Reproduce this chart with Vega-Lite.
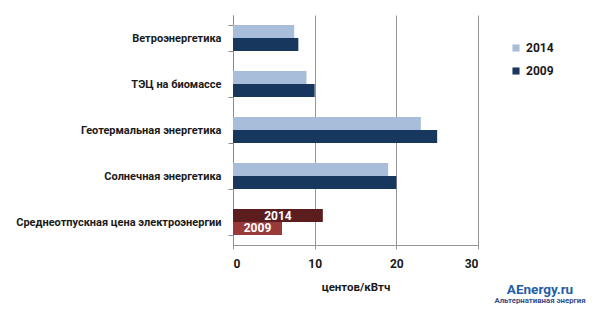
{
  "$schema": "https://vega.github.io/schema/vega-lite/v6.json",
  "width": 245,
  "height": 230,
  "autosize": {"type": "none"},
  "padding": {"left": 233, "top": 15, "right": 114, "bottom": 66},
  "background": "white",
  "config": {"view": {"stroke": null}, "font": "Roboto"},
  "title": {
    "text": "AEnergy.ru",
    "subtitle": "Альтернативная энергия",
    "orient": "bottom",
    "anchor": "end",
    "frame": "group",
    "align": "center",
    "dx": 62,
    "dy": -14,
    "font": "Roboto",
    "fontSize": 13.5,
    "fontWeight": "bold",
    "color": "#1f5fa8",
    "subtitleFont": "Roboto",
    "subtitleFontSize": 7.8,
    "subtitleFontWeight": "bold",
    "subtitleColor": "#3a4f85",
    "subtitlePadding": 1
  },
  "data": {
    "values": [
      {"category": "Ветроэнергетика", "year": "2014", "series": "2014", "value": 7.5},
      {"category": "Ветроэнергетика", "year": "2009", "series": "2009", "value": 8},
      {"category": "ТЭЦ на биомассе", "year": "2014", "series": "2014", "value": 9},
      {"category": "ТЭЦ на биомассе", "year": "2009", "series": "2009", "value": 10},
      {"category": "Геотермальная энергетика", "year": "2014", "series": "2014", "value": 23},
      {"category": "Геотермальная энергетика", "year": "2009", "series": "2009", "value": 25},
      {"category": "Солнечная энергетика", "year": "2014", "series": "2014", "value": 19},
      {"category": "Солнечная энергетика", "year": "2009", "series": "2009", "value": 20},
      {"category": "Среднеотпускная цена электроэнергии", "year": "2014", "series": "r2014", "value": 11},
      {"category": "Среднеотпускная цена электроэнергии", "year": "2009", "series": "r2009", "value": 6}
    ]
  },
  "encoding": {
    "y": {
      "field": "category",
      "type": "nominal",
      "sort": ["Ветроэнергетика", "ТЭЦ на биомассе", "Геотермальная энергетика", "Солнечная энергетика", "Среднеотпускная цена электроэнергии"],
      "scale": {"paddingInner": 0.435, "paddingOuter": 0.2175},
      "axis": {
        "title": null,
        "tickBand": "extent",
        "domainColor": "#8c8c8c",
        "tickColor": "#8c8c8c",
        "tickSize": 5,
        "labelPadding": 7,
        "labelFont": "Roboto",
        "labelFontSize": 11,
        "labelFontWeight": "bold",
        "labelColor": "#1a1a1a",
        "labelLimit": 400,
        "grid": false
      }
    },
    "yOffset": {"field": "year", "type": "nominal", "sort": ["2014", "2009"], "scale": {"paddingInner": 0, "paddingOuter": 0}}
  },
  "layer": [
    {
      "mark": {"type": "bar"},
      "encoding": {
        "x": {
          "field": "value",
          "type": "quantitative",
          "scale": {"domain": [0, 30], "nice": false},
          "axis": {
            "values": [0, 10, 20, 30],
            "title": "центов/кВтч",
            "titleFont": "Roboto",
            "titleFontSize": 11.5,
            "titleFontWeight": "bold",
            "titleColor": "#1a1a1a",
            "titlePadding": 12,
            "grid": true,
            "gridColor": "#959595",
            "domainColor": "#959595",
            "tickColor": "#959595",
            "tickSize": 4,
            "labelPadding": 9,
            "labelFont": "Roboto",
            "labelFontSize": 12,
            "labelFontWeight": "bold",
            "labelColor": "#1a1a1a"
          }
        },
        "color": {
          "field": "series",
          "type": "nominal",
          "scale": {"domain": ["2014", "2009", "r2014", "r2009"], "range": ["#a7bdd9", "#17375e", "#5b1d1d", "#983a39"]},
          "legend": {
            "values": ["2014", "2009"],
            "title": null,
            "orient": "none",
            "legendX": 277,
            "legendY": 27,
            "symbolType": "square",
            "symbolSize": 50,
            "symbolStrokeWidth": 0,
            "labelFont": "Roboto",
            "labelFontSize": 12,
            "labelFontWeight": "bold",
            "labelColor": "#1a1a1a",
            "rowPadding": 11
          }
        }
      }
    },
    {
      "transform": [
        {"filter": "datum.series == 'r2014' || datum.series == 'r2009'"},
        {"calculate": "datum.value / 2", "as": "mid"}
      ],
      "mark": {"type": "text", "color": "white", "fontWeight": "bold", "fontSize": 12, "font": "Roboto", "align": "center", "baseline": "middle"},
      "encoding": {
        "x": {"field": "mid", "type": "quantitative"},
        "text": {"field": "year"}
      }
    }
  ]
}
